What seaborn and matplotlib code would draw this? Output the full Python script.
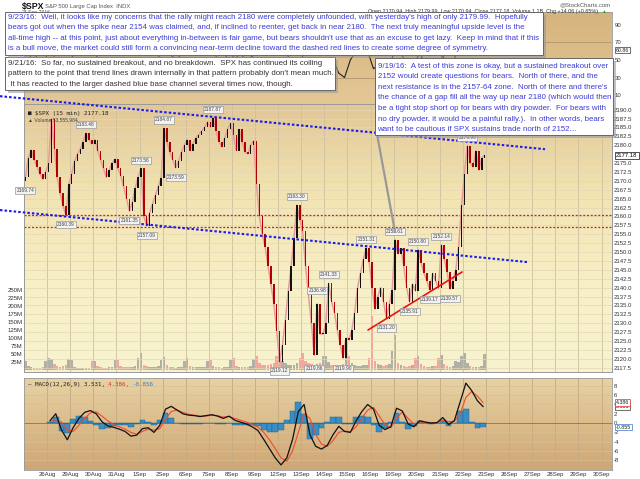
import numpy as np
import pandas as pd
import matplotlib
matplotlib.use("Agg")
import matplotlib.pyplot as plt
import seaborn as sns
from matplotlib.colors import LinearSegmentedColormap
from matplotlib.patches import Rectangle
from matplotlib.ticker import FuncFormatter, FixedLocator

sns.set_style("white")
plt.rcParams['font.family'] = ['Liberation Sans', 'DejaVu Sans']
plt.rcParams['axes.unicode_minus'] = False

# trading days shown (15 min bars, 8 samples per day)
days = ["25Aug", "26Aug", "29Aug", "30Aug", "31Aug", "1Sep", "2Sep", "6Sep", "7Sep", "8Sep",
        "9Sep", "12Sep", "13Sep", "14Sep", "15Sep", "16Sep", "19Sep", "20Sep", "21Sep", "22Sep"]
date_ticks = ["26Aug", "29Aug", "30Aug", "31Aug", "1Sep", "2Sep", "6Sep", "7Sep", "8Sep", "9Sep",
              "12Sep", "13Sep", "14Sep", "15Sep", "16Sep", "19Sep", "20Sep", "21Sep", "22Sep", "23Sep",
              "26Sep", "27Sep", "28Sep", "29Sep", "30Sep"]

closes = [
    2171.0, 2176.5, 2178.7, 2176.0, 2174.0, 2172.0, 2170.5, 2172.5,
    2175.0, 2187.5, 2179.0, 2171.0, 2166.5, 2163.0, 2160.5, 2169.0,
    2172.0, 2175.5, 2177.5, 2179.0, 2181.0, 2183.4, 2181.5, 2180.4,
    2181.5, 2178.5, 2176.0, 2173.5, 2171.0, 2173.0, 2175.0, 2176.1,
    2173.5, 2171.5, 2168.5, 2165.0, 2161.5, 2164.0, 2168.0, 2171.0,
    2173.5, 2160.0, 2157.3, 2161.0, 2163.5, 2166.0, 2168.5, 2170.9,
    2184.8, 2181.0, 2178.0, 2176.0, 2173.7, 2175.5, 2178.0, 2180.0,
    2181.6, 2178.5, 2180.5, 2182.0, 2183.0, 2184.0, 2185.0, 2186.5,
    2185.0, 2187.8, 2184.0, 2181.0, 2179.5, 2182.0, 2184.5, 2186.2,
    2182.8, 2178.5, 2184.5, 2181.0, 2178.0, 2177.6, 2180.0, 2181.3,
    2169.0, 2160.0, 2155.0, 2151.5, 2146.0, 2141.0, 2135.5, 2127.8,
    2119.2, 2124.0, 2131.0, 2139.0, 2146.0, 2154.0, 2163.2, 2159.0,
    2155.8, 2146.0, 2138.0, 2130.0, 2121.0, 2135.5, 2127.0, 2127.0,
    2130.0, 2141.2, 2136.0, 2133.0, 2128.0, 2124.0, 2120.2, 2125.8,
    2125.4, 2128.0, 2133.0, 2140.0, 2144.0, 2148.0, 2151.2, 2147.3,
    2140.0, 2134.0, 2137.5, 2140.0, 2136.0, 2131.3, 2135.5, 2139.2,
    2153.5, 2149.5, 2151.0, 2146.0, 2140.0, 2136.0, 2141.0, 2139.1,
    2150.7, 2147.0, 2144.0, 2142.0, 2139.3, 2144.0, 2142.0, 2139.8,
    2152.0, 2148.0, 2144.5, 2139.6, 2142.0, 2145.0, 2151.5, 2163.1,
    2172.0, 2179.9, 2175.0, 2174.0, 2178.5, 2173.0, 2176.5, 2177.2,
]

volume_m = [
    30, 14, 10, 8, 8, 9, 10, 28,
    40, 35, 20, 15, 12, 14, 16, 35,
    32, 12, 9, 8, 8, 8, 9, 30,
    30, 15, 11, 9, 9, 10, 12, 32,
    34, 14, 12, 10, 10, 11, 13, 40,
    55, 18, 14, 12, 11, 12, 14, 32,
    42, 16, 12, 10, 9, 10, 11, 28,
    38, 15, 12, 10, 10, 10, 12, 30,
    34, 14, 11, 10, 9, 10, 12, 32,
    40, 15, 12, 10, 10, 11, 13, 35,
    45, 22, 18, 16, 18, 20, 24, 45,
    50, 30, 22, 18, 17, 18, 22, 40,
    55, 28, 22, 20, 18, 20, 24, 45,
    45, 25, 18, 16, 15, 17, 20, 42,
    45, 22, 18, 15, 14, 16, 18, 40,
    170, 30, 20, 16, 15, 16, 20, 60,
    110, 24, 16, 13, 12, 14, 16, 38,
    45, 20, 14, 12, 11, 13, 15, 40,
    48, 20, 14, 12, 14, 30, 25, 45,
    55, 22, 15, 12, 11, 12, 14, 50,
]

# RSI behind price, 4 samples per day
rsi = [45, 60, 50, 42, 75, 45, 30, 45, 55, 65, 70, 65, 55, 45, 40, 50, 45, 35, 30, 45,
       50, 30, 45, 55, 70, 55, 50, 60, 60, 62, 65, 70, 68, 50, 45, 62, 50, 60, 45, 55,
       30, 22, 18, 15, 25, 50, 65, 75, 45, 30, 25, 30, 45, 50, 35, 30, 50, 60, 68, 60,
       40, 45, 35, 48, 65, 55, 40, 45, 58, 45, 40, 42, 55, 40, 50, 75, 82, 70, 62, 61]

# MACD(12,26,9) from 26Aug, 4 samples per day
macd = [0.5, 2.0, -1.5, -3.6, -1.0, 1.0, 2.3, 2.7, 2.0, 0.3, -0.6, -0.9, -1.3, -1.8, -2.8, -2.6,
        -1.2, -1.0, -2.0, -0.5, 3.0, 3.6, 2.8, 2.0, 1.7, 1.6, 1.4, 1.6, 1.8, 1.5, 1.0, 1.5,
        0.6, 0.2, -0.2, -0.8, -1.6, -3.5, -5.5, -7.5, -9.0, -7.5, -3.5, 2.5, 4.0, -2.5, -5.0, -5.6,
        -4.8, -2.5, -0.7, -1.8, -2.0, 0.5, 2.5, 4.0, 3.0, -0.5, -1.4, -0.8, 3.2, 2.6, -0.2, -0.8,
        0.5, 0.2, 0.0, 0.1, 1.2, -0.3, 0.5, 4.5, 8.6, 7.0, 4.8, 3.531]
signal = [0.3, 0.8, 0.2, -1.5, -1.8, -0.5, 1.0, 2.2, 2.4, 1.5, 0.5, -0.3, -0.8, -1.3, -2.0, -2.4,
          -1.8, -1.3, -1.5, -1.2, 0.8, 2.5, 2.8, 2.3, 1.9, 1.7, 1.5, 1.5, 1.7, 1.6, 1.3, 1.4,
          1.0, 0.6, 0.2, -0.3, -0.9, -2.0, -3.6, -5.5, -7.5, -8.2, -6.0, -2.0, 2.0, 1.0, -2.5, -4.5,
          -5.0, -3.8, -2.0, -1.7, -1.9, -0.8, 1.0, 2.8, 3.4, 1.5, -0.3, -1.0, 1.0, 2.4, 1.0, -0.2,
          0.0, 0.2, 0.1, 0.1, 0.6, 0.3, 0.4, 2.0, 5.5, 6.8, 5.8, 4.386]

# price labels at swing highs / lows
label_text = ["2169.74", "2160.39", "2183.48", "2161.35", "2173.56", "2157.09", "2184.87", "2173.59",
              "2187.87", "2119.12", "2163.30", "2119.86", "2136.98", "2141.33", "2119.90", "2151.31",
              "2131.20", "2153.61", "2135.91", "2150.80", "2139.17", "2152.14", "2139.57", "2179.99"]
label_t = [0.06, 1.81, 2.69, 4.56, 5.06, 5.31, 6.06, 6.56, 8.19, 11.06, 11.81, 12.56, 12.69, 13.19,
           13.81, 14.81, 15.69, 16.06, 16.69, 17.06, 17.56, 18.06, 18.44, 19.19]
label_side = ["L", "L", "H", "L", "H", "L", "H", "L", "H", "L", "H", "L", "H", "H", "L", "H",
              "L", "H", "L", "H", "L", "H", "L", "H"]

# hand drawn lines
red_levels = [2160.4, 2157.0]
blue_upper = ([-1.04, 22.55], [2193.8, 2178.9])
blue_lower = ([-1.04, 21.77], [2161.8, 2147.2])
red_trend = ([14.89, 18.96], [2128.1, 2144.4])

note_0923 = ["9/23/16:  Well, it looks like my concerns that the rally might reach 2180 were completely unfounded, with yesterday's high of only 2179.99.  Hopefully",
             "bears got out when the spike near 2154 was claimed, and, if inclined to reenter, get back in near 2180.  The next truly meaningful upside level is the",
             "all-time high -- at this point, just about everything in-between is fair game, but bears shouldn't use that as an excuse to get lazy.  Keep in mind that if this",
             "is a bull move, the market could still form a convincing near-term decline toward the dashed red lines to create some degree of symmetry."]
note_0921 = ["9/21/16:  So far, no sustained breakout, and no breakdown.  SPX has continued its coiling",
             "pattern to the point that trend lines drawn internally in that pattern probably don't mean much.",
             " It has reacted to the larger dashed blue base channel several times now, though."]
note_0919 = ["9/19/16:  A test of this zone is okay, but a sustained breakout over",
             "2152 would create questions for bears.  North of there, and the",
             "next resistance is in the 2157-64 zone.  North of there and there's",
             "the chance of a gap fill all the way up near 2180 (which would then",
             "be a tight stop short op for bears with dry powder.  For bears with",
             "no dry powder, it would be a painful rally.).  In other words, bears",
             "want to be cautious if SPX sustains trade north of 2152..."]

# ---- build frames
t_price = [d + (k + 0.5) / 8 for d in range(len(days)) for k in range(8)]
bars = pd.DataFrame({"t": t_price, "close": closes, "vol": np.array(volume_m) * 1e6})
bars["open"] = bars["close"].shift(1).fillna(bars["close"].iloc[0] - 1.0)
bars["up"] = bars["close"] >= bars["open"]
rsi_df = pd.DataFrame({"t": [d + (k + 0.5) / 4 for d in range(len(days)) for k in range(4)], "rsi": rsi})
macd_df = pd.DataFrame({"t": [d + (k + 0.5) / 4 for d in range(1, len(days)) for k in range(4)],
                        "macd": macd, "signal": signal})
macd_df["hist"] = macd_df["macd"] - macd_df["signal"]

W, H = 640, 479
fig = plt.figure(figsize=(6.4, 4.79), dpi=100)
fig.patch.set_facecolor("white")


def panel(top, bottom):
    return fig.add_axes([24 / W, 1 - bottom / H, 588 / W, (bottom - top) / H])


def gradient(axis, colors, xl, yl):
    cmap = LinearSegmentedColormap.from_list("bg", colors)
    axis.imshow(np.linspace(0, 1, 256).reshape(-1, 1), cmap=cmap, aspect="auto",
                extent=[xl[0], xl[1], yl[0], yl[1]], zorder=0, origin="upper")


XL = (0, 25.45)
tick_pos = list(range(1, 26))
tiny = 4.3
grid_c = "#cdbf9f"

# ---- RSI panel (behind price)
ax_r = panel(12, 104)
RL = (0, 104.3)
gradient(ax_r, ["#d6b37d", "#e3c896"], XL, RL)
sns.lineplot(data=rsi_df, x="t", y="rsi", ax=ax_r, color="#222222", lw=0.8, zorder=3)
for lv in [70, 30]:
    ax_r.axhline(lv, color="#b09570", lw=0.6, zorder=1)
ax_r.set_xlim(XL)
ax_r.set_ylim(RL)
ax_r.yaxis.tick_right()
ax_r.set_yticks([10, 30, 50, 70, 90])
ax_r.set_xticks([])
ax_r.set_xlabel("")
ax_r.set_ylabel("")
ax_r.tick_params(axis="y", length=0, pad=2, labelsize=tiny, labelcolor="#333333")
for s in ax_r.spines.values():
    s.set_color("#999999")
    s.set_linewidth(0.6)

# ---- price panel
ax = panel(104, 372)
PL = (2116.3, 2191.6)
vax = ax.twinx()
VL = (-5e6, 832e6)
gradient(vax, ["#e2c797", "#f2e4b2", "#f7efc5", "#f8f3cf"], XL, VL)
vax.bar(bars["t"], bars["vol"], width=0.11,
        color=np.where(bars["up"], "#9a9a9a", "#ee8f8f"), alpha=0.75, zorder=2, linewidth=0)
vax.set_ylim(VL)
vax.set_xlim(XL)
vax.yaxis.tick_left()
vax.yaxis.set_major_locator(FixedLocator([25e6 * i for i in range(1, 11)]))
vax.yaxis.set_major_formatter(FuncFormatter(lambda v, p: f"{int(round(v / 1e6))}M"))
vax.tick_params(axis="y", length=0, pad=1, labelsize=tiny, labelcolor="#333333")
ax.set_zorder(vax.get_zorder() + 1)
ax.patch.set_visible(False)

for tp in tick_pos:
    ax.axvline(tp, color=grid_c, lw=0.6, zorder=1)
for pv in np.arange(2117.5, 2191, 2.5):
    ax.axhline(pv, color="#e3d7b8", lw=0.5, zorder=1)
for lv in red_levels:
    ax.axhline(lv, color="#e01818", lw=0.9, ls=(0, (1.6, 1.4)), zorder=2)

ax.plot(bars["t"], bars["close"], color="#e99a9a", lw=1.1, zorder=3)
ax.bar(bars["t"], (bars["close"] - bars["open"]).abs().clip(lower=0.35),
       bottom=bars[["close", "open"]].min(axis=1), width=0.065,
       color=np.where(bars["up"], "#111111", "#b00000"), zorder=4, linewidth=0)

ax.plot(*red_trend, color="#ee1111", lw=1.2, zorder=5)
ax.plot(*blue_upper, color="#1a1aee", lw=1.5, ls=(0, (1.2, 1.0)), zorder=6, clip_on=False)
ax.plot(*blue_lower, color="#1a1aee", lw=1.5, ls=(0, (1.2, 1.0)), zorder=6, clip_on=False)

for txt, lt, side in zip(label_text, label_t, label_side):
    off = 8 if side == "H" else -9
    ax.annotate(txt, xy=(lt, float(txt)), xytext=(0, off), textcoords="offset pixels",
                ha="center", va="center", fontsize=3.5, color="#444444", zorder=7,
                bbox=dict(boxstyle="square,pad=0.22", fc="#f2f2f2", ec="#999999", lw=0.5))

price_ticks = [v for v in np.arange(2117.5, 2190.1, 2.5) if abs(v - 2177.5) > 0.1]
ax.set_xlim(XL)
ax.set_ylim(PL)
ax.yaxis.tick_right()
ax.set_yticks(price_ticks)
ax.yaxis.set_major_formatter(FuncFormatter(lambda v, p: f"{v:.1f}"))
ax.set_xticks(tick_pos)
ax.set_xticklabels(date_ticks)
ax.tick_params(axis="both", length=0, pad=1.5, labelsize=tiny, labelcolor="#333333")
ax.axhline(2177.5, color="#e3d7b8", lw=0.5, zorder=1)
vax.set_xticks([])
for a in (ax, vax):
    for s in a.spines.values():
        s.set_color("#999999")
        s.set_linewidth(0.6)
ax.text(0.006, 0.975, "\u25a0 $SPX (15 min) 2177.18", transform=ax.transAxes, fontsize=4.2,
        family="DejaVu Sans Mono", color="#222222", va="top", zorder=8)
ax.text(0.006, 0.951, "\u25b2 Volume 53,555,984", transform=ax.transAxes, fontsize=3.6,
        color="#444444", va="top", zorder=8)
ax.annotate("2177.18", xy=(1.0, 2177.18), xycoords=("axes fraction", "data"), xytext=(3, 0),
            textcoords="offset points", fontsize=4.2, va="center", color="black",
            bbox=dict(boxstyle="square,pad=0.2", fc="white", ec="#333333", lw=0.6), annotation_clip=False)

# ---- MACD panel
ax_m = panel(378, 470)
ML = (-10.1, 9.7)
gradient(ax_m, ["#e7d2a4", "#dcbc8a", "#cfa676"], XL, ML)
for tp in tick_pos:
    ax_m.axvline(tp, color="#c2a982", lw=0.6, zorder=1)
for mv in range(-8, 9, 2):
    ax_m.axhline(mv, color="#d7bf95", lw=0.5, zorder=1)
ax_m.bar(macd_df["t"], macd_df["hist"], width=0.25, color="#3a8ec4", edgecolor="#1c5f8c",
         linewidth=0.3, zorder=2)
ax_m.axhline(0, color="#1c5f8c", lw=0.4, zorder=2)
sns.lineplot(data=macd_df, x="t", y="signal", ax=ax_m, color="#f04a30", lw=0.8, zorder=3)
sns.lineplot(data=macd_df, x="t", y="macd", ax=ax_m, color="#111111", lw=0.9, zorder=4)
ax_m.set_xlim(XL)
ax_m.set_ylim(ML)
ax_m.yaxis.tick_right()
ax_m.set_yticks(range(-8, 9, 2))
ax_m.set_xticks(tick_pos)
ax_m.set_xticklabels(date_ticks)
ax_m.set_xlabel("")
ax_m.set_ylabel("")
ax_m.tick_params(axis="both", length=0, pad=1.5, labelsize=tiny, labelcolor="#333333")
for s in ax_m.spines.values():
    s.set_color("#999999")
    s.set_linewidth(0.6)
leg = ax_m.text(0.006, 0.96, "\u2014 MACD(12,26,9) 3.531, ", transform=ax_m.transAxes, fontsize=4.2,
                family="DejaVu Sans Mono", color="#222222", va="top")
leg2 = ax_m.annotate("4.386, ", xy=(1, 0), xycoords=leg, va="bottom", fontsize=4.2,
                     family="DejaVu Sans Mono", color="#e03020")
ax_m.annotate("-0.856", xy=(1, 0), xycoords=leg2, va="bottom", fontsize=4.2,
              family="DejaVu Sans Mono", color="#3a7cc0")
for val, ec in [(macd[-1], "#333333"), (signal[-1], "#e03020"), (macd[-1] - signal[-1], "#3a7cc0")]:
    ax_m.annotate(f"{val:.3f}", xy=(1.0, val), xycoords=("axes fraction", "data"), xytext=(3, 0),
                  textcoords="offset points", fontsize=3.8, va="center", color="#222222",
                  bbox=dict(boxstyle="square,pad=0.15", fc="white", ec=ec, lw=0.5), annotation_clip=False)
ax_r.annotate("60.86", xy=(1.0, rsi[-1]), xycoords=("axes fraction", "data"), xytext=(3, 0),
              textcoords="offset points", fontsize=3.8, va="center", color="#222222",
              bbox=dict(boxstyle="square,pad=0.15", fc="white", ec="#333333", lw=0.5), annotation_clip=False)

# ---- overlay with header and notes (pixel coords)
ov = fig.add_axes([0, 0, 1, 1], zorder=20)
ov.set_xlim(0, W)
ov.set_ylim(H, 0)
ov.axis("off")
ov.patch.set_alpha(0)

ov.text(22, 6, "$SPX", fontsize=6.3, weight="bold", va="center", color="#111111")
ov.text(45, 6, "S&P 500 Large Cap Index  INDX", fontsize=4.2, va="center", color="#555555")
ov.text(22, 12.5, "23-Sep-2016", fontsize=3.6, va="center", color="#555555")
ov.text(611, 5, "@StockCharts.com", fontsize=4.2, va="center", ha="right", color="#555555")
ov.text(598, 11, "Open 2170.94  High 2179.99  Low 2170.94  Close 2177.18  Volume 1.1B  Chg +14.06 (+0.65%)",
        fontsize=3.9, va="center", ha="right", color="#333333")
ov.text(601, 11, "\u25b2", fontsize=3.5, va="center", color="#22aa22")


def note(x0, y0, x1, y1, lines, color, y_first, step, zo):
    ov.add_patch(Rectangle((x0 + 3, y0 + 3), x1 - x0, y1 - y0, fc="#9a9a9a", ec="none", alpha=0.6, zorder=zo))
    ov.add_patch(Rectangle((x0, y0), x1 - x0, y1 - y0, fc="white", ec="#666666", lw=0.7, zorder=zo + 1))
    for i, ln in enumerate(lines):
        ov.text(x0 + 2.5, y_first + i * step, ln, fontsize=5.7, color=color, va="center", zorder=zo + 2)


ov.plot([377, 395], [134, 232], color="#999999", lw=1.6, zorder=2, solid_capstyle="round")
note(375, 58, 613, 135, note_0919, "#3c3cd6", 66, 10.6, 3)
note(5, 57, 335, 90, note_0921, "#333333", 63, 10.5, 6)
note(5, 12, 543, 55, note_0923, "#3c3cd6", 17.5, 10.3, 9)

fig.savefig("out.png", dpi=100, facecolor="white")
